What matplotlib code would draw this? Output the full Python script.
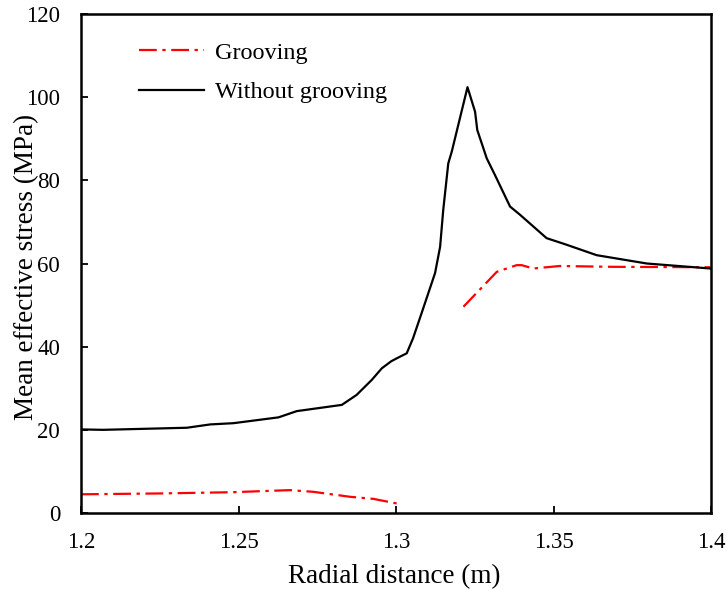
import matplotlib
matplotlib.use("Agg")
import matplotlib.pyplot as plt

# Without grooving
x_without = [1.2, 1.207, 1.2336, 1.241, 1.2484, 1.2627, 1.2685, 1.2828, 1.2875, 1.2923,
             1.2955, 1.2985, 1.3005, 1.3034, 1.3054, 1.3081, 1.3124, 1.314, 1.315, 1.3166,
             1.3177, 1.3227, 1.3251, 1.3258, 1.3288, 1.3314, 1.3362, 1.3394, 1.3478,
             1.3542, 1.3637, 1.3796, 1.3997]
y_without = [20.1, 20.0, 20.5, 21.3, 21.6, 23.0, 24.5, 26.0, 28.4, 32.0,
             34.8, 36.5, 37.3, 38.4, 42.0, 48.0, 57.7, 64.0, 72.9, 84.1,
             86.9, 102.4, 96.5, 92.1, 85.3, 81.3, 73.7, 71.7, 66.1,
             64.5, 62.0, 60.0, 58.8]

# Grooving (two segments)
x_groove1 = [1.2, 1.225, 1.248, 1.2663, 1.2737, 1.2854, 1.2928, 1.3002]
y_groove1 = [4.5, 4.7, 5.0, 5.5, 5.1, 3.9, 3.4, 2.3]
x_groove2 = [1.3214, 1.332, 1.3383, 1.3399, 1.3436, 1.352, 1.369, 1.3997]
y_groove2 = [49.6, 58.0, 59.6, 59.6, 58.8, 59.4, 59.2, 59.1]

xticks = [1.2, 1.25, 1.3, 1.35, 1.4]
xticklabels = ["1.2", "1.25", "1.3", "1.35", "1.4"]
yticks = [0, 20, 40, 60, 80, 100, 120]

plt.rcParams['font.family'] = ['Liberation Serif', 'DejaVu Serif']

fig = plt.figure(figsize=(7.27, 5.9), dpi=100)
ax = fig.add_axes([81/727, 77/590, 630/727, 499/590])

dash = (8, 2.5, 1.5, 2.5)
l1, = ax.plot(x_groove1, y_groove1, color='#ff0000', lw=1.6, dashes=dash, label='Grooving')
ax.plot(x_groove2, y_groove2, color='#ff0000', lw=1.6, dashes=dash)
l2, = ax.plot(x_without, y_without, color='black', lw=1.6, label='Without grooving')

ax.set_xlim(1.2, 1.4)
ax.set_ylim(0, 120)
ax.set_xticks(xticks)
ax.set_xticklabels(xticklabels)
ax.set_yticks(yticks)
ax.tick_params(direction='in', length=5, width=1.3, labelsize=16.5)
ax.tick_params(axis='x', pad=14)
ax.tick_params(axis='y', pad=15)
for s in ax.spines.values():
    s.set_linewidth(1.8)

ax.set_xlabel('Radial distance (m)', fontsize=19.5)
ax.set_ylabel('Mean effective stress (MPa)', fontsize=19.5)
ax.xaxis.set_label_coords(0.497, -0.103)
ax.yaxis.set_label_coords(-0.066, 0.493)

leg = ax.legend(handles=[l1, l2], loc='upper left', bbox_to_anchor=(0.057, 0.988),
                frameon=False, fontsize=17.5, handlelength=2.7, handletextpad=0.45,
                labelspacing=0.72)

fig.savefig('out.png', dpi=100)
